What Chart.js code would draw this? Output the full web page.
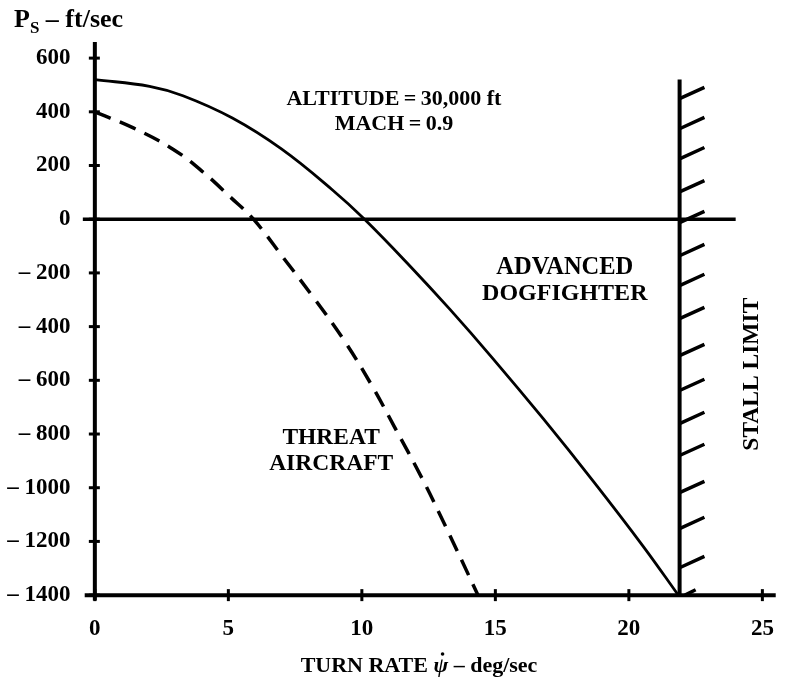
<!DOCTYPE html>
<html>
<head>
<meta charset="utf-8">
<script src="https://cdn.jsdelivr.net/npm/chart.js@4.4.1/dist/chart.umd.min.js"></script>
<style>
  html, body { margin: 0; padding: 0; background: #fff; }
  #wrap { width: 789px; height: 680px; position: relative; }
</style>
</head>
<body>
<div id="wrap"><canvas id="chart"></canvas></div>
<script>
// 선회율 (deg/sec) 대 비에너지율 Ps (ft/sec)
const dogfighterTurn = [0, 2.05, 3.3, 5.15, 7.0, 8.9, 10.1, 11.8, 13.3, 14.9, 16.8, 18.7, 20.55, 21.85];
const dogfighterPs   = [520, 495, 460, 377, 261, 109, 0, -174, -336, -518, -744, -980, -1220, -1400];

const threatTurn = [0, 1.44, 2.94, 4.06, 5.08, 5.94, 7.07, 8.2, 9.34, 10.36, 11.24, 12.26, 13.14, 14.35];
const threatPs   = [400, 340, 260, 175, 82, 0, -145, -293, -452, -617, -777, -966, -1145, -1400];

// 실속 한계선과 빗금
const stallTurn = 21.9;
const stallPsTop = 520;
const hatchPs = [449, 337, 225, 102, -13, -136, -247, -370, -508, -638, -761, -880, -1018, -1152, -1298];

// 축 눈금
const xTicks = [0, 5, 10, 15, 20, 25];
const yTicks = [-1400, -1200, -1000, -800, -600, -400, -200, 0, 200, 400, 600];

const FONT = '"Liberation Serif", "DejaVu Serif", serif';

const toPoints = (xs, ys) => xs.map((x, i) => ({ x: x, y: ys[i] }));

const hatchData = [];
hatchPs.forEach(y => {
    hatchData.push({ x: stallTurn, y: y });
    hatchData.push({ x: stallTurn + 0.93, y: y + 42 });
    hatchData.push({ x: stallTurn, y: null });
});
// 바닥 쪽 짧은 빗금
hatchData.push({ x: stallTurn + 0.2, y: -1400 });
hatchData.push({ x: stallTurn + 0.6, y: -1380 });

/**
 * 축선, 눈금, 글자 그리기
 */
const annotate = {
    id: 'annotate',
    beforeDatasetsDraw(chart) {
        const { ctx, scales: { x, y } } = chart;
        ctx.save();
        ctx.strokeStyle = '#000';
        ctx.lineCap = 'butt';
        ctx.lineWidth = 4;
        // 세로축
        ctx.beginPath();
        ctx.moveTo(x.getPixelForValue(0), y.getPixelForValue(-1420));
        ctx.lineTo(x.getPixelForValue(0), y.getPixelForValue(660));
        ctx.stroke();
        // 가로축
        ctx.beginPath();
        ctx.moveTo(x.getPixelForValue(-0.38), y.getPixelForValue(-1400));
        ctx.lineTo(x.getPixelForValue(25.5), y.getPixelForValue(-1400));
        ctx.stroke();
        // 눈금
        ctx.lineWidth = 3;
        yTicks.forEach(v => {
            const py = y.getPixelForValue(v);
            const px = x.getPixelForValue(0);
            ctx.beginPath();
            ctx.moveTo(px - 6, py);
            ctx.lineTo(px + 5, py);
            ctx.stroke();
        });
        xTicks.forEach(v => {
            const px = x.getPixelForValue(v);
            const py = y.getPixelForValue(-1400);
            ctx.beginPath();
            ctx.moveTo(px, py - 6);
            ctx.lineTo(px, py + 6);
            ctx.stroke();
        });
        ctx.restore();
    },
    afterDraw(chart) {
        const { ctx, scales: { x, y } } = chart;
        ctx.save();
        ctx.fillStyle = '#000';
        ctx.textBaseline = 'middle';
        ctx.textAlign = 'center';

        const text = (s, xv, yv, size) => {
            ctx.font = 'bold ' + size + 'px ' + FONT;
            ctx.fillText(s, x.getPixelForValue(xv), y.getPixelForValue(yv));
        };
        text('ALTITUDE\u2009=\u200930,000 ft', 11.2, 447, 22);
        text('MACH\u2009=\u20090.9', 11.2, 354, 22);
        text('ADVANCED', 17.6, -182, 24.5);
        text('DOGFIGHTER', 17.6, -279, 24);
        text('THREAT', 8.85, -816, 23.5);
        text('AIRCRAFT', 8.85, -912, 23.5);

        // 실속 한계 (세로 글자)
        ctx.save();
        ctx.translate(x.getPixelForValue(24.6), y.getPixelForValue(-577));
        ctx.rotate(-Math.PI / 2);
        ctx.font = 'bold 23.5px ' + FONT;
        ctx.fillText('STALL LIMIT', 0, 0);
        ctx.restore();

        // 세로축 제목: P_S – ft/sec
        ctx.textAlign = 'left';
        ctx.textBaseline = 'alphabetic';
        let cx = 14;
        ctx.font = 'bold 26px ' + FONT;
        ctx.fillText('P', cx, 27);
        cx += ctx.measureText('P').width;
        ctx.font = 'bold 17px ' + FONT;
        ctx.fillText('S', cx, 33);
        cx += ctx.measureText('S').width;
        ctx.font = 'bold 26px ' + FONT;
        ctx.fillText(' \u2013 ft/sec', cx, 27);

        // 가로축 제목: TURN RATE ψ̇ – deg/sec
        const parts = [
            ['bold 22px ' + FONT, 'TURN RATE '],
            ['italic bold 22px ' + FONT, '\u03C8'],
            ['bold 22px ' + FONT, ' \u2013 deg/sec']
        ];
        let total = 0;
        parts.forEach(p => { ctx.font = p[0]; total += ctx.measureText(p[1]).width; });
        cx = 419 - total / 2;
        const base = 672;
        parts.forEach(p => {
            ctx.font = p[0];
            ctx.fillText(p[1], cx, base);
            if (p[1] === '\u03C8') {
                const w = ctx.measureText(p[1]).width;
                ctx.beginPath();
                ctx.arc(cx + w * 0.62, base - 18, 1.8, 0, Math.PI * 2);
                ctx.fill();
            }
            cx += ctx.measureText(p[1]).width;
        });
        ctx.restore();
    }
};

const ctx = document.getElementById('chart').getContext('2d');
new Chart(ctx, {
    type: 'line',
    data: {
        datasets: [
            {
                label: 'Advanced dogfighter',
                data: toPoints(dogfighterTurn, dogfighterPs),
                borderColor: '#000',
                borderWidth: 2.8,
                pointRadius: 0,
                tension: 0.4
            },
            {
                label: 'Threat aircraft',
                data: toPoints(threatTurn, threatPs),
                borderColor: '#000',
                borderWidth: 3.5,
                borderDash: [17, 10],
                pointRadius: 0,
                tension: 0.4
            },
            {
                label: 'Ps = 0',
                data: [{ x: -0.45, y: 0 }, { x: 24.0, y: 0 }],
                borderColor: '#000',
                borderWidth: 3.5,
                pointRadius: 0
            },
            {
                label: 'Stall limit',
                data: [{ x: stallTurn, y: -1400 }, { x: stallTurn, y: stallPsTop }],
                borderColor: '#000',
                borderWidth: 4,
                pointRadius: 0
            },
            {
                label: 'Stall hatch',
                data: hatchData,
                borderColor: '#000',
                borderWidth: 3.5,
                pointRadius: 0,
                spanGaps: false
            }
        ]
    },
    options: {
        responsive: true,
        maintainAspectRatio: false,
        animation: false,
        layout: { padding: { top: 42, right: 6.5, left: 0, bottom: 0 } },
        plugins: {
            legend: { display: false },
            tooltip: { enabled: false },
            title: { display: false }
        },
        scales: {
            x: {
                type: 'linear',
                min: -0.5,
                max: 25.5,
                afterBuildTicks: (scale) => { scale.ticks = xTicks.map(v => ({ value: v })); },
                afterFit: (scale) => { scale.height = 79.5; },
                grid: { display: false, drawTicks: false },
                border: { display: false },
                ticks: {
                    padding: 15,
                    color: '#000',
                    font: { family: FONT, size: 23, weight: 'bold' }
                }
            },
            y: {
                type: 'linear',
                min: -1420,
                max: 660,
                afterBuildTicks: (scale) => { scale.ticks = yTicks.map(v => ({ value: v })); },
                afterFit: (scale) => { scale.width = 81.5; },
                grid: { display: false, drawTicks: false },
                border: { display: false },
                ticks: {
                    padding: 11,
                    color: '#000',
                    font: { family: FONT, size: 23, weight: 'bold' },
                    callback: (v) => v < 0 ? '\u2013 ' + Math.abs(v) : String(v)
                }
            }
        }
    },
    plugins: [annotate]
});
</script>
</body>
</html>
